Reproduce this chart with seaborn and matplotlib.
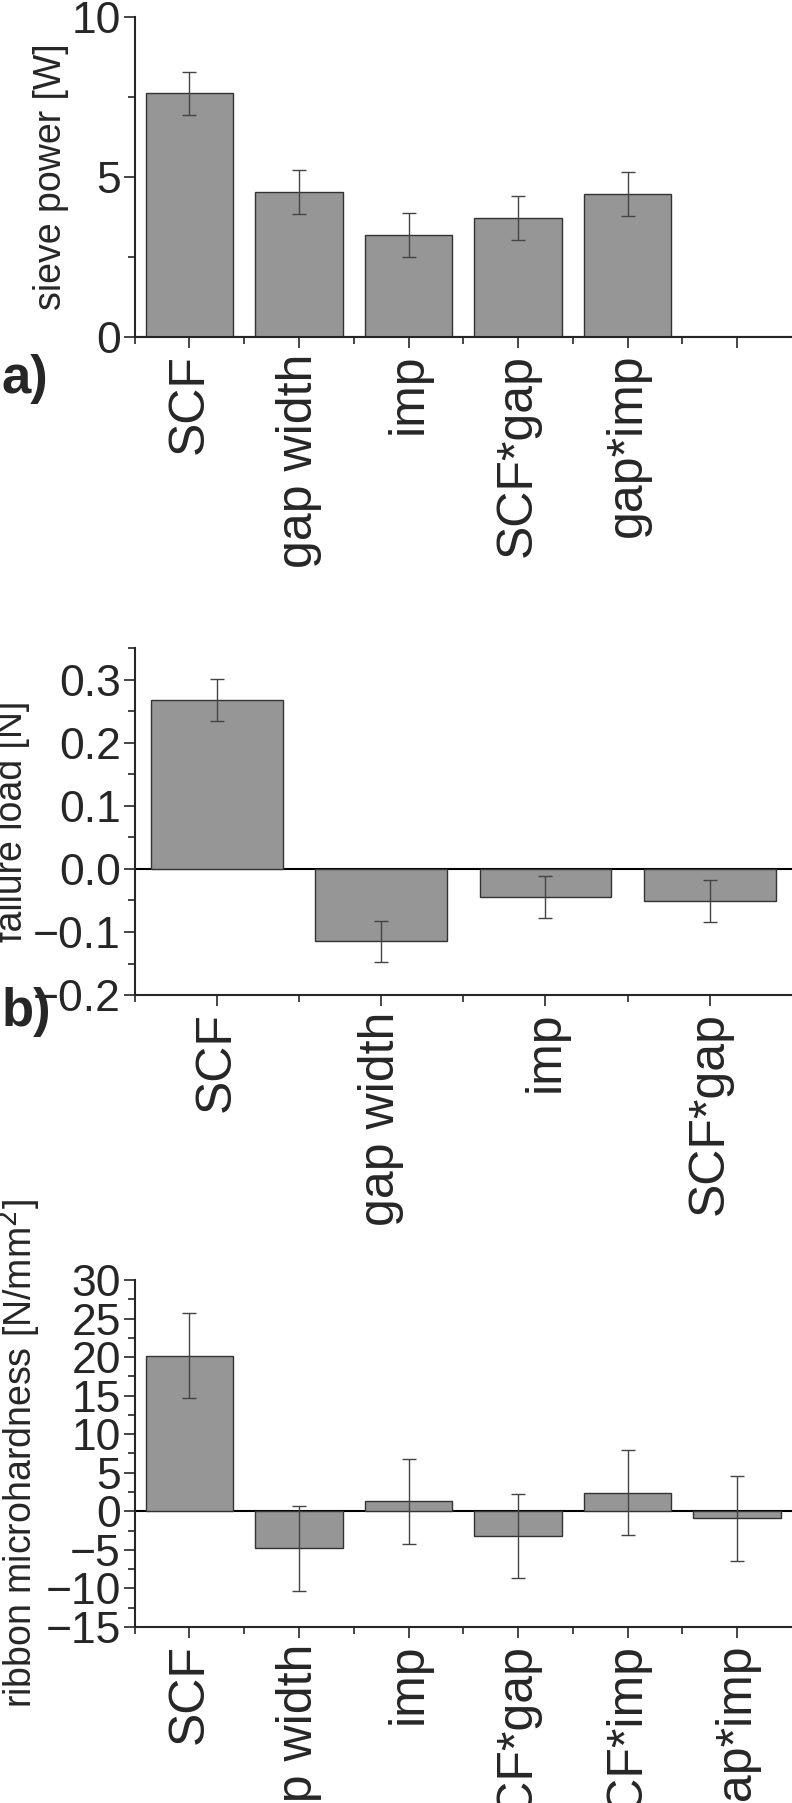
import matplotlib
matplotlib.use("Agg")
import matplotlib.pyplot as plt
from matplotlib.ticker import MultipleLocator, FixedLocator
import seaborn as sns
import numpy as np

# panel a: sieve power
A_CATS = ["SCF", "gap width", "imp", "SCF*gap", "gap*imp"]
A_VALS = [7.62, 4.53, 3.20, 3.73, 4.48]
A_ERR = [0.68, 0.68, 0.68, 0.68, 0.68]

# panel b: failure load
B_CATS = ["SCF", "gap width", "imp", "SCF*gap"]
B_VALS = [0.268, -0.115, -0.045, -0.051]
B_ERR = [0.033, 0.033, 0.033, 0.033]

# panel c: ribbon microhardness
C_CATS = ["SCF", "gap width", "imp", "SCF*gap", "SCF*imp", "gap*imp"]
C_VALS = [20.2, -4.8, 1.3, -3.2, 2.4, -0.9]
C_ERR = [5.5, 5.5, 5.5, 5.5, 5.5, 5.5]

sns.set_style("ticks")
plt.rcParams["font.family"] = ["Liberation Sans", "DejaVu Sans"]

BAR = "#969696"
EDGE = "#333333"

fig = plt.figure(figsize=(7.92, 18.03), dpi=100)


def panel(rect, cats, vals, errs, nslots, ylim, major, minor, ylabel, tag, tag_y, fmt):
    ax = fig.add_axes(rect)
    sns.barplot(x=cats, y=vals, color=BAR, edgecolor=EDGE, linewidth=1.0,
                width=0.8, saturation=1, ax=ax)
    ax.errorbar(np.arange(len(cats)), vals, yerr=errs, fmt="none",
                ecolor="#444444", elinewidth=1, capsize=5, capthick=1)
    ax.axhline(0, color="black", lw=1.5, zorder=0.5)
    ax.set_xlim(-0.5, nslots - 0.5)
    ax.set_ylim(*ylim)
    ax.set_xticks(range(nslots))
    ax.set_xticklabels(cats + [""] * (nslots - len(cats)), rotation=90, fontsize=36)
    ax.xaxis.set_minor_locator(FixedLocator(np.arange(nslots) - 0.5))
    ax.yaxis.set_major_locator(MultipleLocator(major))
    ax.yaxis.set_minor_locator(MultipleLocator(minor))
    ax.yaxis.set_major_formatter(fmt)
    ax.tick_params(axis="y", which="major", length=8, width=1.2, labelsize=32, pad=2)
    ax.tick_params(axis="x", which="major", length=8, width=1.2, pad=4)
    ax.tick_params(axis="both", which="minor", length=5, width=1.2)
    sns.despine(ax=ax)
    for s in ("left", "bottom"):
        ax.spines[s].set_linewidth(1.5)
    ax.set_ylabel(ylabel, fontsize=27, labelpad=2)
    ax.set_xlabel("")
    ax.text(-0.203, tag_y, tag, transform=ax.transAxes, fontsize=38,
            fontweight="bold", va="center", ha="left")
    return ax


panel([0.170, 0.813, 0.83, 0.1775], A_CATS, A_VALS, A_ERR, 6, (0, 10), 5, 2.5,
      "sieve power [W]", "a)", -0.13, "{x:.0f}")
panel([0.170, 0.4481, 0.83, 0.1925], B_CATS, B_VALS, B_ERR, 4, (-0.2, 0.35), 0.1, 0.05,
      "failure load [N]", "b)", -0.05, "{x:.1f}")
panel([0.170, 0.0976, 0.83, 0.1925], C_CATS, C_VALS, C_ERR, 6, (-15, 30), 5, 2.5,
      "ribbon microhardness [N/mm$^2$]", "c)", -1.13, "{x:.0f}")

fig.savefig("out.png", dpi=100)
